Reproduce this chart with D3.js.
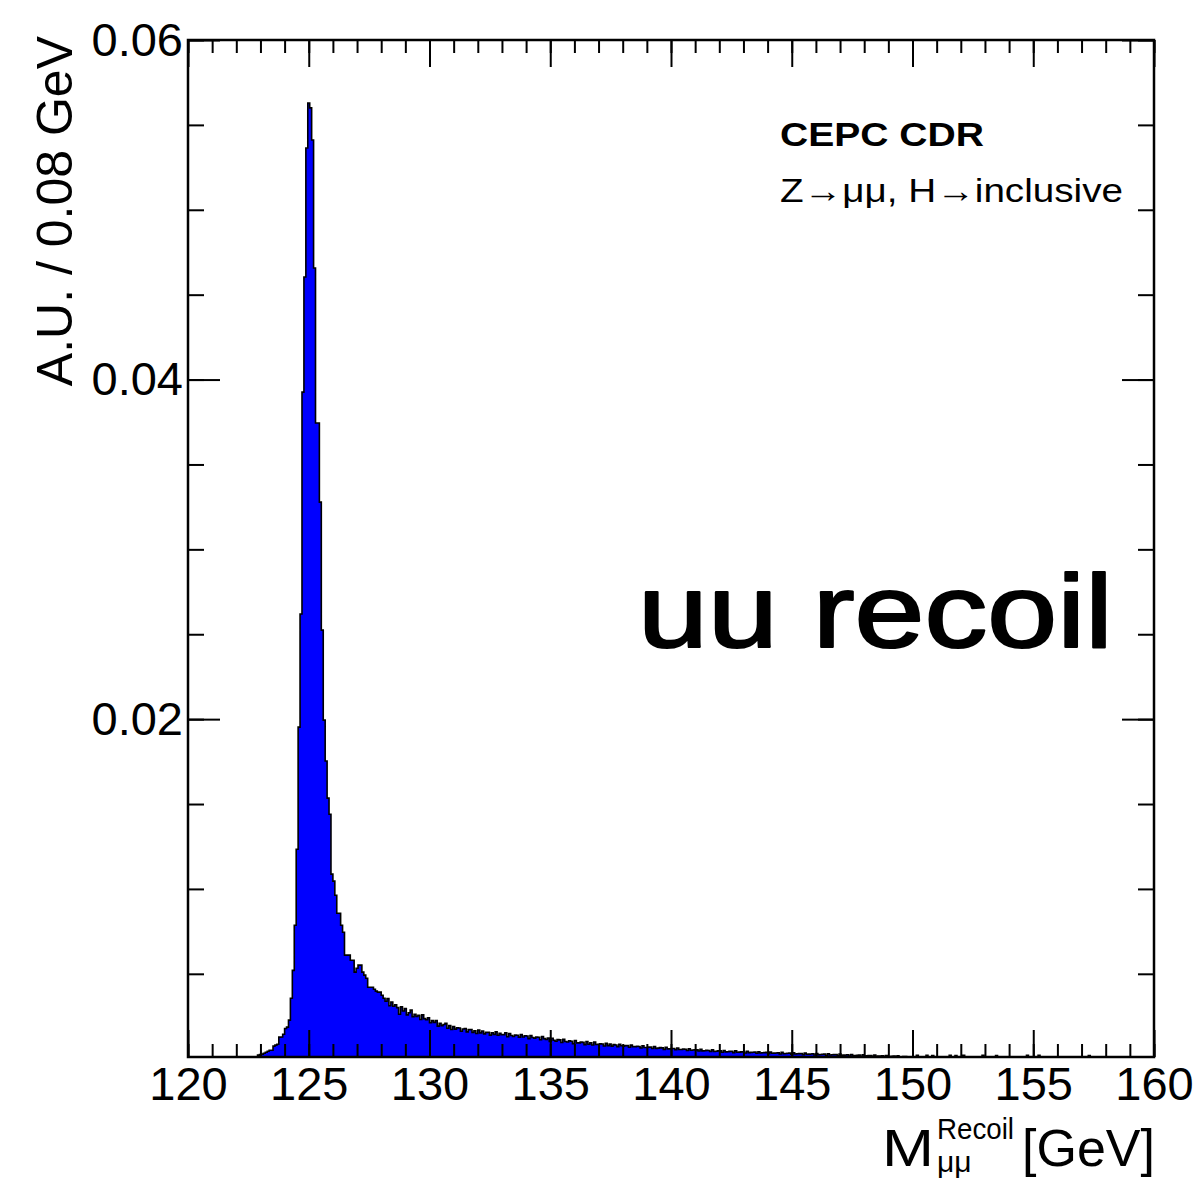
<!DOCTYPE html>
<html><head><meta charset="utf-8">
<script src="https://cdn.jsdelivr.net/npm/d3@7"></script>
<style>
body{margin:0;background:#fff}
svg{display:block}
text{font-family:"Liberation Sans",Arial,Helvetica,sans-serif;fill:#000}
</style>
</head><body>
<svg id="c" width="1198" height="1181"></svg>
<script>
// ---------------- data ----------------
const xMin = 120, xMax = 160, binWidth = 0.08;
const yMin = 0.0001, yMax = 0.06;
const firstBinLow = 122.88;   // low edge of the first filled bin
const mainValues = [
  0.00021,0.00024,0.00027,0.00032,0.00038,0.00044,0.00050,0.00050,0.00074,0.00080,
  0.00085,0.00127,0.00128,0.00144,0.00178,0.00186,0.00227,0.00356,0.00520,0.00786,
  0.01234,0.01953,0.02619,0.03926,0.04604,0.05364,0.05629,0.05600,0.05411,0.04657,
  0.03744,0.03744,0.03278,0.02524,0.01994,0.01753,0.01535,0.01440,0.01087,0.01046,
  0.00963,0.00857,0.00857,0.00786,0.00745,0.00610,0.00610,0.00610,0.00580,0.00580,
  0.00510,0.00533,0.00551,0.00551,0.00510,0.00492,0.00474,0.00421,0.00421,0.00421,
  0.00409,0.00398,0.00392,0.00392,0.00374,0.00356,
  0.00338,0.00355,0.00312,0.00334,0.00309,0.00318,0.00301,0.00262,0.00305,0.00281,
  0.00296,0.00258,0.00271,0.00286,0.00247,0.00262,0.00249,0.00256,0.00231,0.00258,
  0.00236,0.00229,0.00241,0.00212,0.00224,0.00214,0.00225,0.00192,0.00209,0.00195,
  0.00201,0.00208,0.00179,0.00195,0.00172,0.00190,0.00174,0.00182,0.00181,0.00162,
  0.00175,0.00178,0.00158,0.00171,0.00172,0.00155,0.00165,0.00148,0.00169,0.00152,
  0.00163,0.00146,0.00155,0.00156,0.00139,0.00153,0.00143,0.00158,0.00138,0.00149,
  0.00141,0.00142,0.00153,0.00129,0.00148,0.00137,0.00131,0.00139,0.00138,0.00127,
  0.00142,0.00128,0.00135,0.00134,0.00118,0.00137,0.00125,0.00121,0.00128,0.00126,
  0.00112,0.00131,0.00118,0.00113,0.00121,0.00102,0.00120,0.00109,0.00103,0.00113,
  0.00111,0.00095,0.00114,0.00101,0.00098,0.00106,0.00103,0.00089,0.00107,0.00093,
  0.00093,0.00098,0.00096,0.00083,0.00101,0.00085,0.00094,0.00081,0.00098,0.00084,
  0.00085,0.00088,0.00087,0.00075,0.00091,0.00077,0.00086,0.00074,0.00083,0.00081,
  0.00071,0.00085,0.00076,0.00074,0.00078,0.00077,0.00067,0.00080,0.00071,0.00070,
  0.00073,0.00072,0.00063,0.00076,0.00066,0.00066,0.00069,0.00068,0.00060,0.00072,
  0.00061,0.00062,0.00065,0.00064,0.00055,0.00067,0.00058,0.00058,0.00060,0.00060,
  0.00053,0.00063,0.00054,0.00054,0.00057,0.00056,0.00048,0.00059,0.00050,0.00051,
  0.00053,0.00052,0.00045,0.00055,0.00046,0.00047,0.00049,0.00048,0.00042,0.00052,
  0.00043,0.00044,0.00046,0.00046,0.00038,0.00048,0.00040,0.00041,0.00043,0.00043,
  0.00036,0.00046,0.00038,0.00039,0.00040,0.00041,0.00034,0.00043,0.00036,0.00037,
  0.00038,0.00039,0.00032,0.00041,0.00034,0.00035,0.00036,0.00037,0.00030,0.00039,
  0.00032,0.00033,0.00034,0.00035,0.00028,0.00037,0.00030,0.00031,0.00032,0.00033,
  0.00027,0.00035,0.00028,0.00029,0.00030,0.00031,0.00024,0.00033,0.00026,0.00027,
  0.00028,0.00029,0.00022,0.00031,0.00024,0.00025,0.00026,0.00027,0.00020,0.00029,
  0.00022,0.00023,0.00024,0.00025,0.00018,0.00027,0.00020,0.00021,0.00022,0.00023,
  0.00016,0.00025,0.00018,0.00019,0.00020,0.00021,0.00014,0.00023,0.00016,0.00017,
  0.00018,0.00019,0.00012,0.00021,0.00014,0.00015,0.00016,0.00017,0.00010,0.00019,
  0.00012,0.00013,0.00014,0.00015,0.00008,0.00017,0.00010,0.00011,0.00012,0.00013
];
// isolated bins far in the tail (low edge, content)
const tailBinLows = [150.16,150.56,150.80,151.52,151.76,152.08,152.88,153.44,154.72,155.20,157.28];
const tailValues  = [0.00020,0.00020,0.00018,0.00020,0.00018,0.00020,0.00020,0.00018,0.00020,0.00020,0.00018];
const xMajorTicks = [120,125,130,135,140,145,150,155,160];
const xMinorTicks = d3.range(120,161,1);
const yMajorTicks = [0.02,0.04,0.06];
const yMinorTicks = [0.005,0.01,0.015,0.02,0.025,0.03,0.035,0.04,0.045,0.05,0.055,0.06];

// ---------------- layout ----------------
const L = 188, R = 1154, T = 40, B = 1057;
const svg = d3.select("#c");
const x = d3.scaleLinear().domain([xMin,xMax]).range([L,R]);
const y = d3.scaleLinear().domain([yMin,yMax]).range([B,T]);

const nBins = Math.round((xMax-xMin)/binWidth);
const content = new Array(nBins).fill(0);
const off = Math.round((firstBinLow-xMin)/binWidth);
mainValues.forEach((v,i)=>{content[off+i]=v;});
tailBinLows.forEach((lo,i)=>{content[Math.round((lo-xMin)/binWidth)]=tailValues[i];});

const pts = [[xMin,yMin]];
content.forEach((v,i)=>{
  const lo = xMin+i*binWidth, hi = lo+binWidth, vv = Math.max(v,yMin);
  pts.push([lo,vv],[hi,vv]);
});
pts.push([xMax,yMin]);

svg.append("clipPath").attr("id","fr").append("rect")
  .attr("x",L).attr("y",T).attr("width",R-L).attr("height",B-T);
const line = d3.line().x(d=>x(d[0])).y(d=>y(d[1]));
svg.append("path").attr("clip-path","url(#fr)")
  .attr("d",line(pts)).attr("fill","#0000ff")
  .attr("stroke","#000").attr("stroke-width",1.6).attr("stroke-linejoin","miter");

// ---------------- axes ----------------
function styleAxis(g){ g.select(".domain").remove(); g.selectAll(".tick line").attr("stroke","#000").attr("stroke-width",2); }
const fs = 47;
svg.append("g").attr("transform",`translate(0,${B})`)
  .call(d3.axisBottom(x).tickValues(xMinorTicks).tickSize(-13).tickFormat(""))
  .call(styleAxis);
const bx = svg.append("g").attr("transform",`translate(0,${B})`)
  .call(d3.axisBottom(x).tickValues(xMajorTicks).tickSize(-27).tickPadding(10).tickFormat(d3.format("d")))
  .call(styleAxis);
bx.selectAll("text").attr("font-size",fs).attr("font-family","Liberation Sans, Arial, sans-serif").attr("fill","#000");
svg.append("g").attr("transform",`translate(0,${T})`)
  .call(d3.axisTop(x).tickValues(xMinorTicks).tickSize(-13).tickFormat("")).call(styleAxis);
svg.append("g").attr("transform",`translate(0,${T})`)
  .call(d3.axisTop(x).tickValues(xMajorTicks).tickSize(-27).tickFormat("")).call(styleAxis);
svg.append("g").attr("transform",`translate(${L},0)`)
  .call(d3.axisLeft(y).tickValues(yMinorTicks).tickSize(-16).tickFormat("")).call(styleAxis);
const ly = svg.append("g").attr("transform",`translate(${L},0)`)
  .call(d3.axisLeft(y).tickValues(yMajorTicks).tickSize(-32).tickPadding(5).tickFormat(d3.format(".2f")))
  .call(styleAxis);
ly.selectAll("text").attr("font-size",fs).attr("font-family","Liberation Sans, Arial, sans-serif").attr("fill","#000");
svg.append("g").attr("transform",`translate(${R},0)`)
  .call(d3.axisRight(y).tickValues(yMinorTicks).tickSize(-16).tickFormat("")).call(styleAxis);
svg.append("g").attr("transform",`translate(${R},0)`)
  .call(d3.axisRight(y).tickValues(yMajorTicks).tickSize(-32).tickFormat("")).call(styleAxis);

svg.append("rect").attr("x",L).attr("y",T).attr("width",R-L).attr("height",B-T)
  .attr("fill","none").attr("stroke","#000").attr("stroke-width",2.5);

// ---------------- titles ----------------
svg.append("text").attr("transform","translate(72,36) rotate(-90)")
  .attr("text-anchor","end").attr("font-size",50).text("A.U. / 0.08 GeV");

const xt = svg.append("g");
xt.append("text").attr("x",882).attr("y",1166).attr("font-size",52)
  .attr("textLength",52).attr("lengthAdjust","spacingAndGlyphs").text("M");
xt.append("text").attr("x",937).attr("y",1139).attr("font-size",30)
  .attr("textLength",77).attr("lengthAdjust","spacingAndGlyphs").text("Recoil");
xt.append("text").attr("x",937).attr("y",1172).attr("font-size",30).text("\u03bc\u03bc");
xt.append("text").attr("x",1155).attr("y",1166).attr("font-size",52).attr("text-anchor","end").text("[GeV]");

svg.append("text").attr("x",780).attr("y",146).attr("font-size",33).attr("font-weight","bold")
  .attr("textLength",204).attr("lengthAdjust","spacingAndGlyphs").text("CEPC CDR");
svg.append("text").attr("x",780).attr("y",202).attr("font-size",33)
  .attr("textLength",343).attr("lengthAdjust","spacingAndGlyphs").text("Z\u2192\u03bc\u03bc, H\u2192inclusive");

svg.append("text").attr("x",638).attr("y",647).attr("font-size",104)
  .attr("font-family","Roboto, Inter, sans-serif")
  .attr("stroke","#000").attr("stroke-width",2.2).attr("stroke-linejoin","round")
  .attr("textLength",475).attr("lengthAdjust","spacingAndGlyphs")
  .text("uu recoil");
</script>
</body></html>
